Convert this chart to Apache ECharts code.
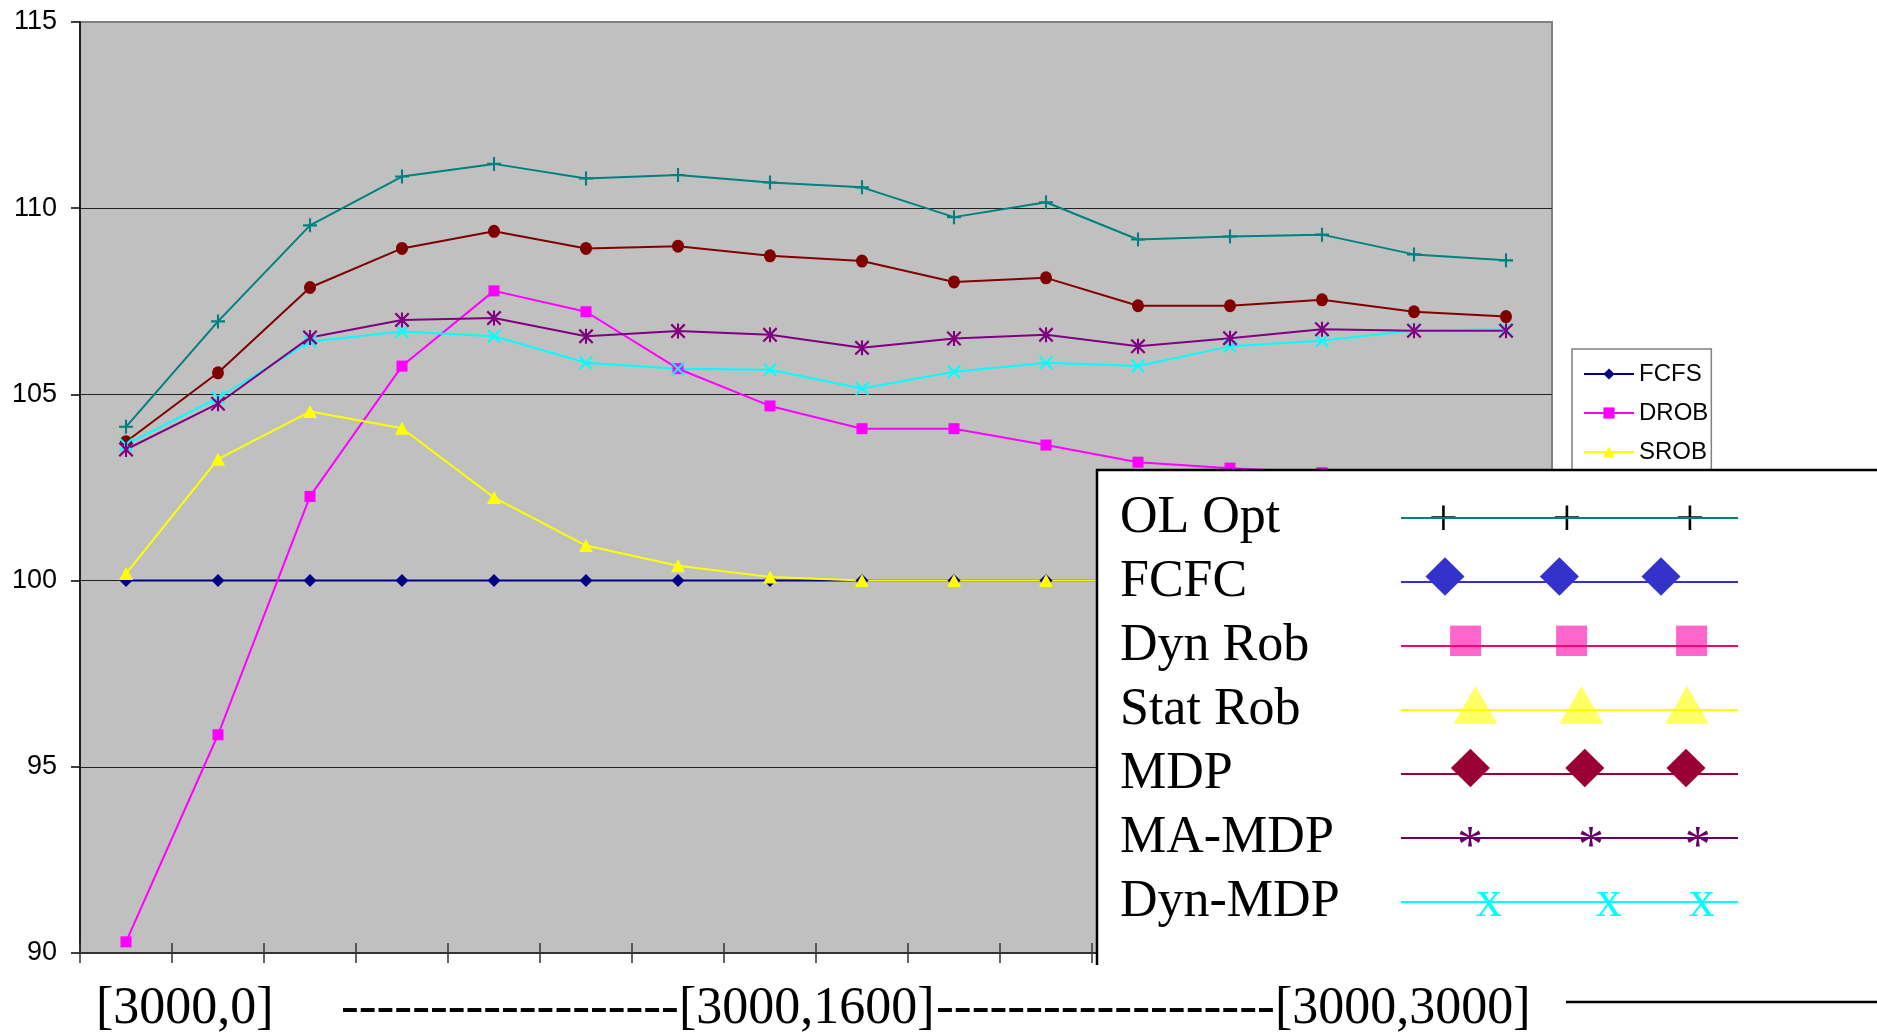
<!DOCTYPE html>
<html>
<head>
<meta charset="utf-8">
<script src="https://cdn.jsdelivr.net/npm/echarts@6/dist/echarts.min.js"></script>
<style>
html,body{margin:0;padding:0;background:#fff;}
#chart{width:1877px;height:1034px;}
</style>
</head>
<body>
<div id="chart"></div>
<script>
// ---- data ----
var categories = ['[3000,0]','[3000,200]','[3000,400]','[3000,600]','[3000,800]','[3000,1000]','[3000,1200]','[3000,1400]',
                  '[3000,1600]','[3000,1800]','[3000,2000]','[3000,2200]','[3000,2400]','[3000,2600]','[3000,2800]','[3000,3000]'];
var fcfs   = [100,100,100,100,100,100,100,100,100,100,100,100,100,100,100,100];
var drob   = [90.30,95.86,102.26,105.76,107.78,107.22,105.69,104.69,104.08,104.08,103.64,103.18,103.02,102.90,102.80,102.70];
var srob   = [100.19,103.26,104.54,104.09,102.23,100.94,100.40,100.10,100.00,100.00,100.00,100.00,100.00,100.00,100.00,100.00];
var olOpt  = [104.13,106.96,109.54,110.85,111.19,110.80,110.89,110.69,110.56,109.76,110.16,109.16,109.24,109.29,108.76,108.60];
var mdp    = [103.73,105.58,107.87,108.92,109.38,108.92,108.98,108.72,108.58,108.02,108.13,107.38,107.38,107.54,107.22,107.09];
var maMdp  = [103.52,104.75,106.53,107.00,107.05,106.56,106.70,106.60,106.25,106.50,106.60,106.29,106.51,106.75,106.71,106.71];
var dynMdp = [103.65,104.91,106.42,106.69,106.56,105.85,105.69,105.66,105.16,105.61,105.85,105.76,106.29,106.44,106.72,106.74];
var yTicks = {min: 90, max: 115, interval: 5};
var xLabelTexts = ['[3000,0]', '[3000,1600]', '[3000,3000]'];
var smallLegendNames = ['FCFS', 'DROB', 'SROB'];
var bigLegendNames = ['OL Opt', 'FCFC', 'Dyn Rob', 'Stat Rob', 'MDP', 'MA-MDP', 'Dyn-MDP'];

// ---- symbols ----
var PLUS = 'path://M8.5,0h3v8.5h8.5v3h-8.5v8.5h-3v-8.5h-8.5v-3h8.5z';
var XSYM = 'path://M0,2.1L2.1,0L20,17.9L17.9,20Z M17.9,0L20,2.1L2.1,20L0,17.9Z';
var STAR = 'path://M0,2.1L2.1,0L20,17.9L17.9,20Z M17.9,0L20,2.1L2.1,20L0,17.9Z M8.6,0h2.8v20h-2.8z';

function lineSeries(name, data, color, symbol, size) {
  return {
    name: name, type: 'line', data: data, symbol: symbol, symbolSize: size,
    showAllSymbol: true, animation: false,
    lineStyle: {color: color, width: 2},
    itemStyle: {color: color, borderWidth: 0},
    emphasis: {disabled: true}
  };
}

var series = [
  lineSeries('FCFS', fcfs, '#000080', 'diamond', 13),
  lineSeries('DROB', drob, '#FF00FF', 'rect', 11),
  lineSeries('SROB', srob, '#FFFF00', 'triangle', [14, 13]),
  lineSeries('OLOPT', olOpt, '#008080', PLUS, 14),
  lineSeries('MDPS', mdp, '#800000', 'circle', [12, 13]),
  lineSeries('DYNMDP', dynMdp, '#00FFFF', XSYM, 14),
  lineSeries('MAMDP', maMdp, '#800080', STAR, 15)
];

// ---- overlay legend & bottom labels (decoration) ----
var serif = 'Liberation Serif, Times New Roman, serif';
var g = [];
g.push({type: 'rect', z: 100, shape: {x: 1097, y: 470, width: 820, height: 532},
        style: {fill: '#fff', stroke: '#000', lineWidth: 2.5}});
var rowColors = ['#008080', '#3333CC', '#FF0066', '#FFFF00', '#990033', '#660066', '#00FFFF'];
var symX = [[1443.5, 1567, 1690], [1445, 1559.4, 1661], [1465.6, 1571.6, 1691.6], [1475.5, 1581.5, 1687],
            [1470.4, 1584.8, 1686], [1470, 1591, 1697.7], [1489, 1608.7, 1701.7]];
bigLegendNames.forEach(function (nm, k) {
  var cy = 518.5 + 64 * k;
  var ly = 518 + 64 * k;
  g.push({type: 'text', z: 101, x: 1120, y: cy,
          style: {text: nm, font: '52px ' + serif, fill: '#000', textAlign: 'left', textVerticalAlign: 'middle'}});
  symX[k].forEach(function (sx) {
    if (k === 0) {
      g.push({type: 'text', z: 101, x: sx, y: ly + 3,
              style: {text: '+', font: '52px ' + serif, fill: '#000', textAlign: 'center', textVerticalAlign: 'middle'}});
    } else if (k === 1 || k === 4) {
      var c = k === 1 ? '#3333CC' : '#990033';
      var yy = k === 1 ? 576.5 : 768;
      g.push({type: 'polygon', z: 101, shape: {points: [[sx, yy - 19.3], [sx + 19.5, yy], [sx, yy + 19.3], [sx - 19.5, yy]]},
              style: {fill: c}});
    } else if (k === 2) {
      g.push({type: 'rect', z: 101, shape: {x: sx - 15.5, y: 625.6, width: 31, height: 30.4}, style: {fill: '#FF66CC'}});
    } else if (k === 3) {
      g.push({type: 'polygon', z: 101, shape: {points: [[sx, 686], [sx + 21.8, 723.7], [sx - 21.8, 723.7]]},
              style: {fill: '#FFFF66'}});
    } else if (k === 5) {
      g.push({type: 'text', z: 101, x: sx, y: 848.5,
              style: {text: '*', font: '52px ' + serif, fill: '#660066', textAlign: 'center', textVerticalAlign: 'middle'}});
    } else if (k === 6) {
      g.push({type: 'text', z: 101, x: sx, y: 902,
              style: {text: 'x', font: '52px ' + serif, fill: '#00FFFF', textAlign: 'center', textVerticalAlign: 'middle'}});
    }
  });
  g.push({type: 'line', z: 102, shape: {x1: 1401, y1: ly, x2: 1738, y2: ly},
          style: {stroke: rowColors[k], lineWidth: 2}});
});
g.push({type: 'rect', z: 103, shape: {x: 0, y: 965, width: 1566, height: 69}, style: {fill: '#fff'}});
var dashes = '-------------------';
function bottomText(txt, x, sx) {
  g.push({type: 'text', z: 104, x: x, y: 1009, scaleX: sx || 1,
          style: {text: txt, font: '52px ' + serif, fill: '#000', textAlign: 'left', textVerticalAlign: 'middle'}});
}
bottomText(xLabelTexts[0], 96);
bottomText(dashes, 341, 1.027);
bottomText(xLabelTexts[1], 679);
bottomText(dashes, 936, 1.03);
bottomText(xLabelTexts[2], 1275);

var chart = echarts.init(document.getElementById('chart'), null, {renderer: 'canvas'});
chart.setOption({
  animation: false,
  backgroundColor: '#fff',
  grid: {left: 80, top: 22, width: 1472, height: 931, show: true, backgroundColor: '#C0C0C0',
         borderColor: '#808080', borderWidth: 2, containLabel: false},
  legend: {
    data: smallLegendNames, orient: 'vertical', left: 1572, top: 349,
    padding: [12, 3, 12, 11], itemGap: 13, itemWidth: 50, itemHeight: 14,
    backgroundColor: '#fff', borderColor: '#808080', borderWidth: 1.5, borderRadius: 0,
    selectedMode: false,
    textStyle: {fontFamily: 'Liberation Sans, Arial, sans-serif', fontSize: 24, color: '#000', lineHeight: 26}
  },
  xAxis: [{
    type: 'category', data: categories, boundaryGap: true, position: 'bottom',
    axisLine: {show: true, lineStyle: {color: '#333', width: 2}},
    axisTick: {show: true, interval: 0, length: 10, lineStyle: {color: '#333', width: 1.5}},
    axisLabel: {show: false},
    splitLine: {show: false}
  }, {
    type: 'category', data: categories, boundaryGap: true, position: 'bottom',
    axisLine: {show: false},
    axisTick: {show: true, inside: true, interval: 0, length: 10, lineStyle: {color: '#333', width: 1.5}},
    axisLabel: {show: false},
    splitLine: {show: false}
  }],
  yAxis: {
    type: 'value', min: yTicks.min, max: yTicks.max, interval: yTicks.interval,
    axisLine: {show: true, lineStyle: {color: '#000', width: 1.5}},
    axisTick: {show: true, length: 9, lineStyle: {color: '#000', width: 1.5}},
    axisLabel: {fontFamily: 'Liberation Sans, Arial, sans-serif', fontSize: 27, color: '#000', margin: 23},
    splitLine: {show: true, showMinLine: false, showMaxLine: false, lineStyle: {color: '#222', width: 1}}
  },
  series: series,
  graphic: {elements: g}
});
</script>
</body>
</html>
